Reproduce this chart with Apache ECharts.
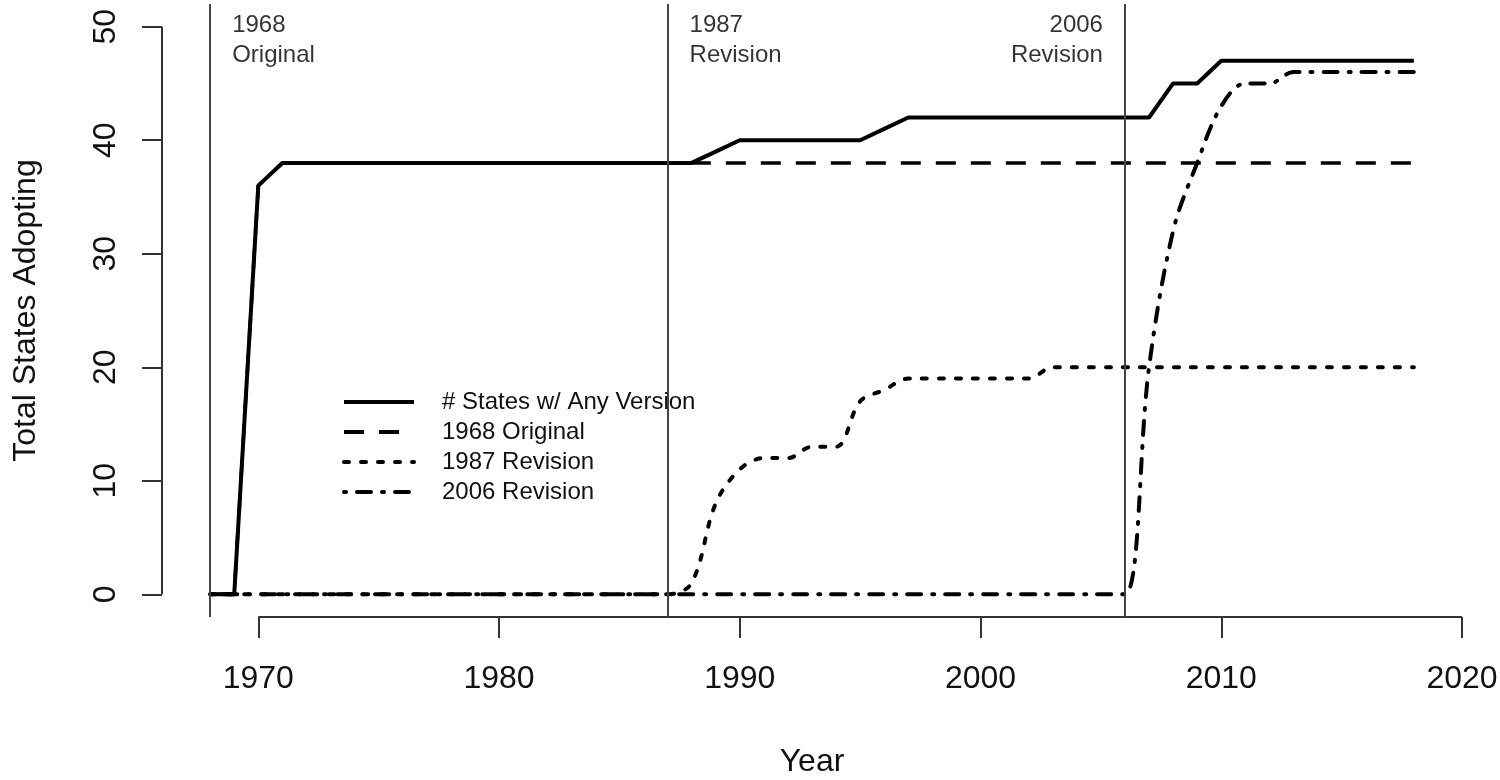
<!DOCTYPE html>
<html>
<head>
<meta charset="utf-8">
<script src="https://cdn.jsdelivr.net/npm/echarts@6/dist/echarts.min.js"></script>
<style>
  html, body { margin: 0; padding: 0; background: #fff; }
  #chart { width: 1500px; height: 780px; }
</style>
</head>
<body>
<div id="chart"></div>
<script>
// years 1968..2018
var years = [];
for (var y = 1968; y <= 2018; y++) years.push(y);

var anyVersion = [0, 0, 36, 38, 38, 38, 38, 38, 38, 38, 38, 38, 38, 38, 38, 38, 38, 38, 38, 38, 38,
    39, 40, 40, 40, 40, 40, 40, 41, 42, 42, 42, 42, 42, 42, 42, 42, 42, 42, 42,
    45, 45, 47, 47, 47, 47, 47, 47, 47, 47, 47];
var original1968 = [0, 0, 36, 38, 38, 38, 38, 38, 38, 38, 38, 38, 38, 38, 38, 38, 38, 38, 38, 38, 38,
    38, 38, 38, 38, 38, 38, 38, 38, 38, 38, 38, 38, 38, 38, 38, 38, 38, 38, 38,
    38, 38, 38, 38, 38, 38, 38, 38, 38, 38, 38];
var revision1987 = [0, 0, 0, 0, 0, 0, 0, 0, 0, 0, 0, 0, 0, 0, 0, 0, 0, 0, 0, 0,
    1, 8, 11, 12, 12, 13, 13, 17, 18, 19, 19, 19, 19, 19, 19,
    20, 20, 20, 20, 20, 20, 20, 20, 20, 20, 20, 20, 20, 20, 20, 20];
var revision2006 = [0, 0, 0, 0, 0, 0, 0, 0, 0, 0, 0, 0, 0, 0, 0, 0, 0, 0, 0, 0,
    0, 0, 0, 0, 0, 0, 0, 0, 0, 0, 0, 0, 0, 0, 0, 0, 0, 0, 0,
    20, 32, 38, 43, 45, 45, 46, 46, 46, 46, 46, 46];

var seriesNames = ['# States w/ Any Version', '1968 Original', '1987 Revision', '2006 Revision'];

var xTicks = [1970, 1980, 1990, 2000, 2010, 2020];
var yTicks = [0, 10, 20, 30, 40, 50];

// version release years and their notes
var releaseYears = [1968, 1987, 2006];
var releaseNotes = ['1968\nOriginal', '1987\nRevision', '2006\nRevision'];
var noteLevel = 48.8;

var font = 'Liberation Sans, Arial, sans-serif';
var axisColor = '#333';

function pairs(values) {
    return years.map(function (yr, i) { return [yr, values[i]]; });
}

var chart = echarts.init(document.getElementById('chart'));

var option = {
    animation: false,
    backgroundColor: '#fff',
    textStyle: { fontFamily: font, color: '#111' },
    grid: { left: 162, right: 38, top: 4, bottom: 163, outerBoundsMode: 'none', containLabel: false },
    legend: {
        data: seriesNames,
        orient: 'vertical',
        left: 337,
        top: 382,
        itemWidth: 70,
        itemHeight: 14,
        itemGap: 0,
        selectedMode: false,
        itemStyle: { opacity: 0 },
        lineStyle: { width: 4 },
        textStyle: { fontFamily: font, fontSize: 24, color: '#111', lineHeight: 30, padding: [0, 0, 0, 23] }
    },
    xAxis: {
        type: 'value',
        min: 1966,
        max: 2020,
        name: 'Year',
        nameLocation: 'middle',
        nameGap: 129,
        nameTextStyle: { fontFamily: font, fontSize: 32, color: '#111' },
        axisLine: { show: false, onZero: false },
        splitLine: { show: false },
        axisTick: { show: true, customValues: xTicks, length: 21, lineStyle: { color: axisColor, width: 2 } },
        axisLabel: {
            customValues: xTicks, fontSize: 32, color: '#111', margin: 46, fontFamily: font,
            formatter: function (v) { return String(v); }
        }
    },
    yAxis: {
        type: 'value',
        min: -2,
        max: 52,
        name: 'Total States Adopting',
        nameLocation: 'middle',
        nameGap: 120,
        nameTextStyle: { fontFamily: font, fontSize: 32, color: '#111' },
        axisLine: { show: false, onZero: false },
        splitLine: { show: false },
        axisTick: { show: true, customValues: yTicks, length: 20, lineStyle: { color: axisColor, width: 2 } },
        axisLabel: { customValues: yTicks, fontSize: 32, color: '#111', rotate: 90, margin: 40, fontFamily: font }
    },
    series: [
        {
            // R-style detached axis lines plus the release-year markers
            name: 'axes',
            type: 'line',
            data: [],
            clip: false,
            silent: true,
            markLine: {
                silent: true,
                symbol: 'none',
                label: { show: false },
                lineStyle: { color: axisColor, width: 2, type: 'solid' },
                data: [
                    [{ coord: [xTicks[0], -2] }, { coord: [xTicks[xTicks.length - 1], -2] }],
                    [{ coord: [1966, yTicks[0]] }, { coord: [1966, yTicks[yTicks.length - 1]] }]
                ].concat(releaseYears.map(function (yr) {
                    return { xAxis: yr, lineStyle: { color: '#444', width: 2 } };
                }))
            }
        },
        {
            name: seriesNames[0],
            type: 'line',
            data: pairs(anyVersion),
            symbol: 'none',
            lineStyle: { color: '#000', width: 4, type: 'solid' },
            itemStyle: { color: '#000' }
        },
        {
            name: seriesNames[1],
            type: 'line',
            data: pairs(original1968),
            symbol: 'none',
            lineStyle: { color: '#000', width: 3.5, type: [20, 15] },
            itemStyle: { color: '#000' }
        },
        {
            name: seriesNames[2],
            type: 'line',
            data: pairs(revision1987),
            symbol: 'none',
            smooth: 0.35,
            lineStyle: { color: '#000', width: 4, type: [5, 12], cap: 'round' },
            itemStyle: { color: '#000' }
        },
        {
            name: seriesNames[3],
            type: 'line',
            data: pairs(revision2006),
            symbol: 'none',
            smooth: 0.35,
            lineStyle: { color: '#000', width: 4, type: [2, 11, 14, 11], cap: 'round' },
            itemStyle: { color: '#000' }
        },
        {
            name: 'notes',
            type: 'scatter',
            symbolSize: 0,
            silent: true,
            data: releaseYears.map(function (yr, i) {
                return {
                    value: [yr, noteLevel],
                    label: {
                        show: true,
                        formatter: releaseNotes[i],
                        position: i === releaseYears.length - 1 ? 'left' : 'right',
                        align: i === releaseYears.length - 1 ? 'right' : 'left',
                        distance: 22,
                        fontSize: 24,
                        lineHeight: 30,
                        color: '#000',
                        fontFamily: font
                    }
                };
            })
        }
    ]
};

chart.setOption(option);
</script>
</body>
</html>
